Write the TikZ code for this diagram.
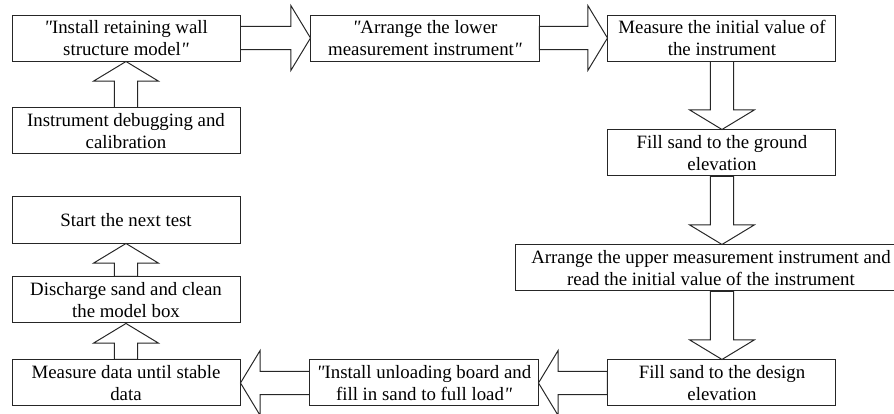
\documentclass[tikz,border=0pt]{standalone}
\usepackage{fontspec}
\setmainfont{Liberation Serif}
\usepackage{tikz}
\usetikzlibrary{positioning,calc}

\begin{document}
\begin{tikzpicture}[
    box/.style={draw=black!85, line width=0.7pt, minimum width=5.7cm, minimum height=1.15cm, align=center, inner sep=1pt, fill=white, font=\fontsize{13.4}{15.7}\selectfont},
    wide/.style={minimum width=9.75cm},
    fat/.style={draw=black!85, line width=0.7pt, fill=white, to path={
        (\tikztostart) coordinate (fa) (\tikztotarget) coordinate (fb)
        ($(fb)!0.49cm!(fa)$) coordinate (fc)
        ($(fa)!0.29cm!90:(fb)$) -- ($(fc)!0.29cm!-90:(fa)$) -- ($(fc)!0.81cm!-90:(fa)$) -- (fb)
        -- ($(fc)!0.81cm!90:(fa)$) -- ($(fc)!0.29cm!90:(fa)$) -- ($(fa)!0.29cm!-90:(fb)$) -- cycle}}
]
    \useasboundingbox (0,0) rectangle (22.35,-10.325);

    % Top row
    \node[box] (inst) at (3.15,-0.95) {{\itshape\textquotedbl}Install retaining wall\\structure model{\itshape\textquotedbl}};
    \node[box, below=1.15cm of inst] (debug) {Instrument debugging and\\calibration};
    \node[box, right=1.75cm of inst] (lower) {{\itshape\textquotedbl}Arrange the lower\\measurement instrument{\itshape\textquotedbl}};
    \node[box, right=1.7cm of lower] (initial) {Measure the initial value of\\the instrument};

    % Right column
    \node[box, below=1.7cm of initial] (ground) {Fill sand to the ground\\elevation};
    \node[box, wide, below=1.7cm of ground, xshift=-0.275cm] (upper) {Arrange the upper measurement instrument and\\read the initial value of the instrument};
    \node[box, below=1.7cm of upper, xshift=0.275cm] (design) {Fill sand to the design\\elevation};

    % Bottom row and left column
    \node[box, left=1.725cm of design] (unload) {{\itshape\textquotedbl}Install unloading board and\\fill in sand to full load{\itshape\textquotedbl}};
    \node[box, left=1.725cm of unload] (stable) {Measure data until stable\\data};
    \node[box, above=0.9cm of stable] (discharge) {Discharge sand and clean\\the model box};
    \node[box, above=0.825cm of discharge] (next) {Start the next test};

    % Block arrows
    \draw[fat] (debug.north) to (inst.south);
    \draw[fat] (inst.east) to (lower.west);
    \draw[fat] (lower.east) to (initial.west);
    \draw[fat] (initial.south) to (ground.north);
    \draw[fat] (ground.south) to (ground.south |- upper.north);
    \draw[fat] (ground.south |- upper.south) to (design.north);
    \draw[fat] (design.west) to (unload.east);
    \draw[fat] (unload.west) to (stable.east);
    \draw[fat] (stable.north) to (discharge.south);
    \draw[fat] (discharge.north) to (next.south);
\end{tikzpicture}
\end{document}
